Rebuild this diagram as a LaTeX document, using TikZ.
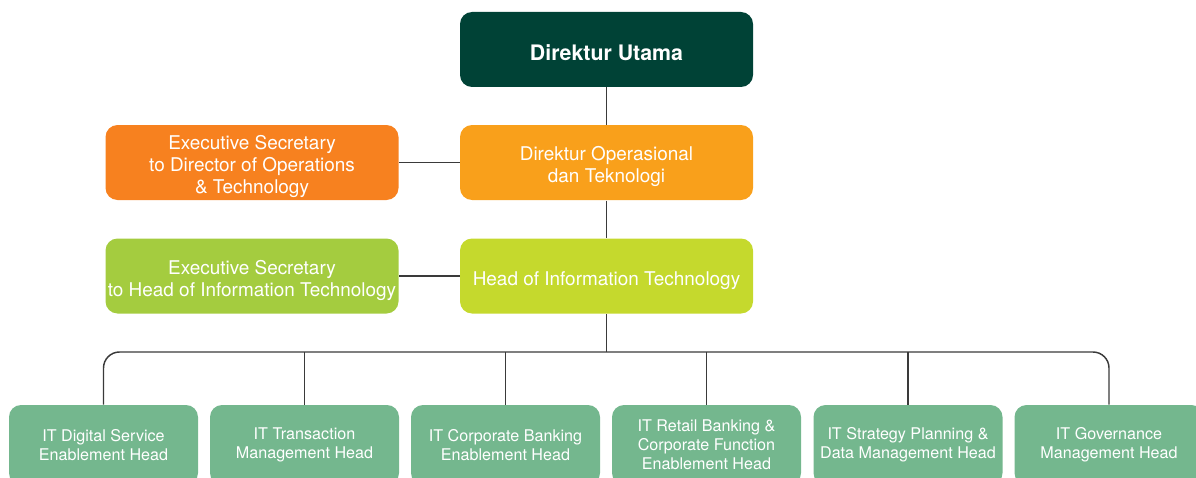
\documentclass[tikz,border=0pt]{standalone}
\usepackage{fontspec}
\setmainfont{TeX Gyre Heros}
\usepackage{tikz}
\definecolor{dirutama}{HTML}{004236}
\definecolor{diropr}{HTML}{F9A01B}
\definecolor{secopr}{HTML}{F7811F}
\definecolor{headit}{HTML}{C5D92D}
\definecolor{secit}{HTML}{A4CC3F}
\definecolor{unitit}{HTML}{74B78E}
\definecolor{linegray}{HTML}{3A3A3A}
\newcommand{\boxstrut}{\rule{0pt}{17pt}}
\tikzset{every picture/.style={line width=0.75pt}}
\tikzset{
  topbox/.style={rounded corners=9pt, text=white, align=center, minimum width=219.75pt, minimum height=56.25pt, inner sep=0pt, font=\fontsize{14.2}{16.5}\selectfont},
  unitbox/.style={rounded corners=9pt, fill=unitit, text=white, align=center, minimum width=141.75pt, minimum height=60pt, inner sep=0pt, font=\fontsize{12.1}{14.4}\selectfont},
  conn/.style={draw=linegray, line width=1.1pt}
}

\begin{document}
\begin{tikzpicture}[x=0.75pt,y=0.75pt,yscale=-1,xscale=1]
\useasboundingbox (0,0) rectangle (1196,478);
\clip (0,0) rectangle (1196,478);
% upper levels
\node (utama) at (606.5,49.5) [topbox, fill=dirutama, font=\bfseries\fontsize{16}{18}\selectfont] {\boxstrut Direktur Utama};
\node (opr) at (606.5,162.5) [topbox, fill=diropr] {\boxstrut Direktur Operasional\\dan Teknologi};
\node (secopr) at (252,162.5) [topbox, fill=secopr] {\boxstrut Executive Secretary\\to Director of Operations\\\& Technology};
\node (hit) at (606.5,276) [topbox, fill=headit] {\boxstrut Head of Information Technology};
\node (secit) at (252,276) [topbox, fill=secit] {\boxstrut Executive Secretary\\to Head of Information Technology};
% IT units
\node (digital) at (103.5,445) [unitbox] {IT Digital Service\\Enablement Head};
\node (trans) at (304.5,445) [unitbox] {IT Transaction\\Management Head};
\node (corp) at (505.5,445) [unitbox] {IT Corporate Banking\\Enablement Head};
\node (retail) at (706.5,445) [unitbox] {IT Retail Banking \&\\Corporate Function\\Enablement Head};
\node (strat) at (908,445) [unitbox] {IT Strategy Planning \&\\Data Management Head};
\node (gov) at (1109,445) [unitbox] {IT Governance\\Management Head};
\coordinate (bus) at (606.5,352);
% connectors
\draw [conn] (utama) -- (opr);
\draw [conn] (opr) -- (hit);
\draw [conn] (secopr) -- (opr);
\draw [conn] (secit) -- (hit);
\draw [conn] (hit) -- (bus);
\draw [conn, rounded corners=12pt] (digital.north) |- (bus) -| (gov.north);
\draw [conn] (trans.north) -- (trans.north |- bus);
\draw [conn] (corp.north) -- (corp.north |- bus);
\draw [conn] (retail.north) -- (retail.north |- bus);
\draw [conn] (strat.north) -- (strat.north |- bus);
\end{tikzpicture}
\end{document}
